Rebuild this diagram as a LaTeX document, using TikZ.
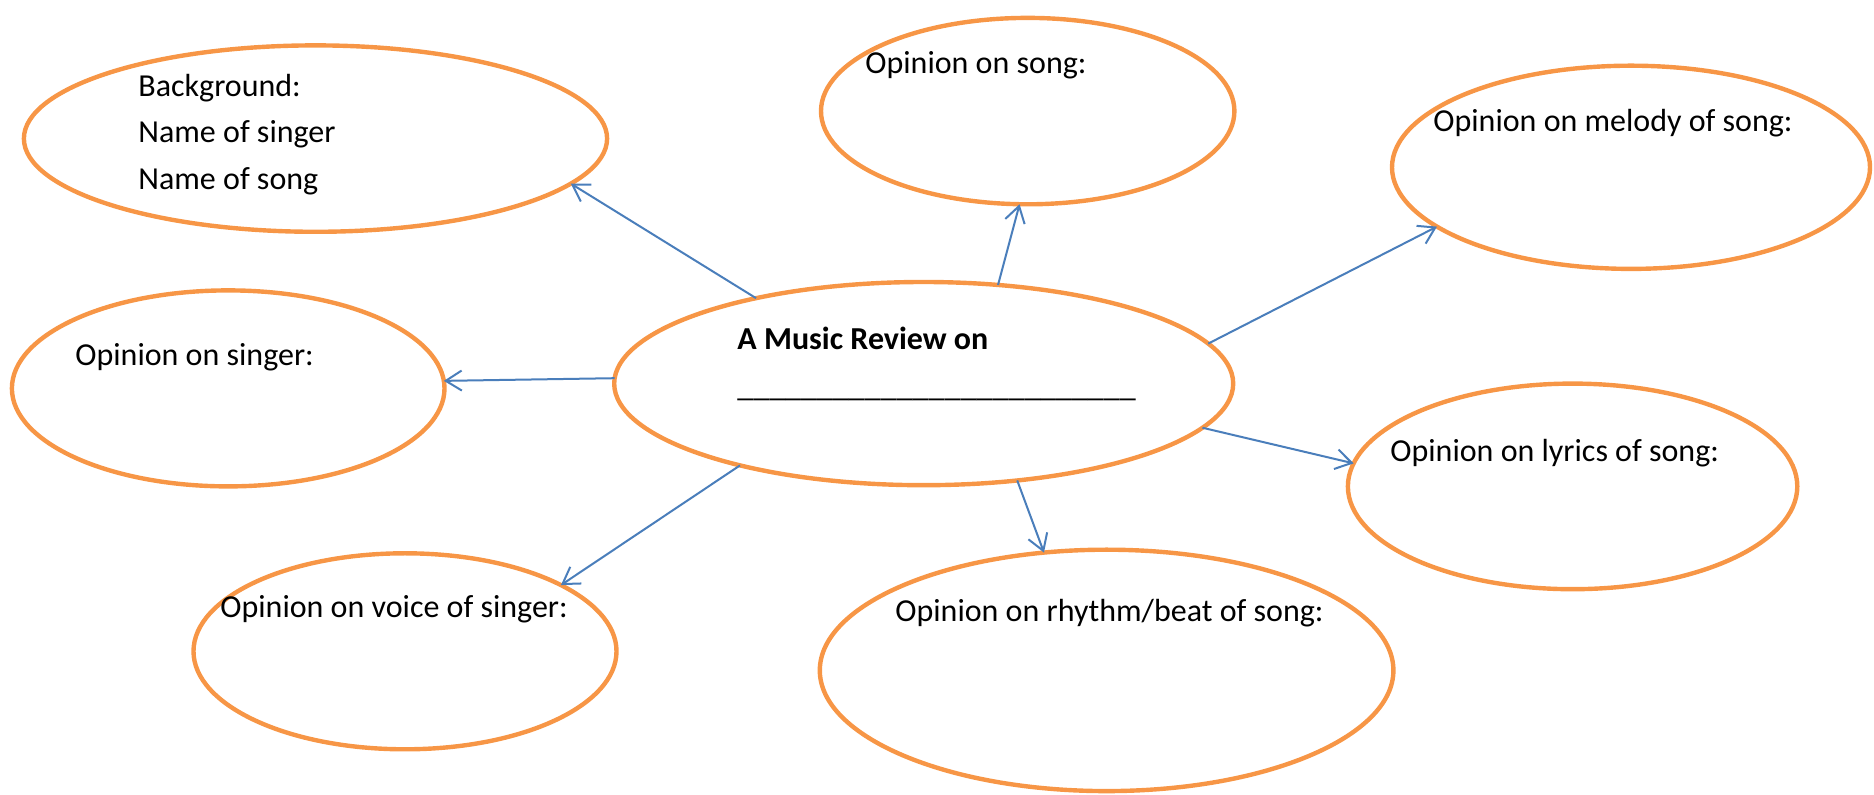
\documentclass[tikz,border=0pt]{standalone}
\usepackage{fontspec}
\setmainfont{Carlito}
\usetikzlibrary{shapes.geometric,arrows.meta}
\definecolor{bubbleorange}{HTML}{F79646}
\definecolor{linkblue}{HTML}{4A7EBB}
\begin{document}
\begin{tikzpicture}[x=0.5pt,y=-0.5pt,
    bubble/.style={ellipse,draw=bubbleorange,line width=2.2pt,inner sep=0pt,outer sep=0pt},
    txt/.style={anchor=base west,inner sep=0pt,font=\fontsize{16}{19}\selectfont},
    link/.style={draw=linkblue,line width=1pt,-{Straight Barb[length=8pt,width=10pt]}}]
    \useasboundingbox (0,0) rectangle (1874,795);
    % bubbles
    \node[bubble,minimum width=291.6pt,minimum height=93.2pt] (bg) at (315.5,138.6) {};
    \node[bubble,minimum width=206.7pt,minimum height=93.2pt] (song) at (1027.7,111.1) {};
    \node[bubble,minimum width=239pt,minimum height=101.6pt] (melody) at (1631,167.3) {};
    \node[bubble,minimum width=216.3pt,minimum height=98pt] (singer) at (228.2,388.4) {};
    \node[bubble,minimum width=309.5pt,minimum height=101.6pt] (review) at (923.7,383.6) {};
    \node[bubble,minimum width=224.7pt,minimum height=102.8pt] (lyrics) at (1572.6,486.4) {};
    \node[bubble,minimum width=211.5pt,minimum height=98pt] (voice) at (405,651.3) {};
    \node[bubble,minimum width=286.8pt,minimum height=120.7pt] (rhythm) at (1106.6,670.4) {};
    % texts
    \node[txt] (bgA) at (138,97) {Background:};
    \node[txt] (bgB) at (138,143) {Name of singer};
    \node[txt] (bgC) at (138,190) {Name of song};
    \node[txt] (songT) at (865,74) {Opinion on song:};
    \node[txt] (melodyT) at (1433,132) {Opinion on melody of song:};
    \node[txt] (singerT) at (75,366) {Opinion on singer:};
    \node[txt,font=\fontsize{16}{19}\selectfont\bfseries] (reviewT) at (737,350) {A Music Review on};
    \node[txt] (reviewB) at (737,397) {\_\_\_\_\_\_\_\_\_\_\_\_\_\_\_\_\_\_\_\_\_\_\_\_\_};
    \node[txt] (lyricsT) at (1390,462) {Opinion on lyrics of song:};
    \node[txt] (voiceT) at (220,618) {Opinion on voice of singer:};
    \node[txt] (rhythmT) at (895,622) {Opinion on rhythm/beat of song:};
    % links
    \draw[link] (review.153) -- (bg.-10);
    \draw[link] (review.53) -- (song.-95);
    \draw[link] (review.8) -- (melody.-163);
    \draw[link] (review.179) -- (singer.2);
    \draw[link] (review.-9) -- (lyrics.174);
    \draw[link] (review.-156) -- (voice.23);
    \draw[link] (review.-46) -- (rhythm.118);
\end{tikzpicture}
\end{document}
